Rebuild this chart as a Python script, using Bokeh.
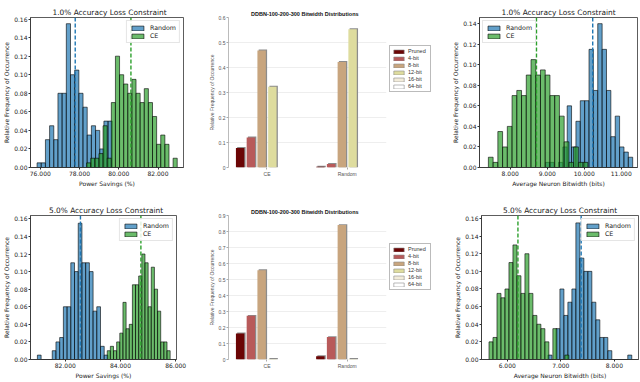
from bokeh.plotting import figure
from bokeh.layouts import column, row
from bokeh.models import Range1d, Span, FixedTicker, NumeralTickFormatter, Legend, LegendItem
from bokeh.embed import file_html
from bokeh.resources import INLINE

# ---------------- data ----------------
BLUE = "#1f77b4"
GREEN = "#2ca02c"
series_names = ["Random", "CE"]
y_label = "Relative Frequency of Occurrence"
hist_titles = ["1.0% Accuracy Loss Constraint", "5.0% Accuracy Loss Constraint"]
x_labels = ["Power Savings (%)", "Average Neuron Bitwidth (bits)"]

# power savings, 1.0 % constraint
ps1_rand_start, ps1_rand_bin = 75.835, 0.213
ps1_rand = [0.005, 0.005, 0.03, 0.045, 0.03, 0.08, 0.08, 0.155, 0.10, 0.105,
            0.08, 0.065, 0.035, 0.045, 0.04, 0.02, 0.05, 0.05]
ps1_ce_start, ps1_ce_bin = 78.36, 0.21
ps1_ce = [0.005, 0.01, 0.01, 0.015, 0.045, 0.01, 0.07, 0.12, 0.10, 0.09, 0.08,
          0.095, 0.08, 0.07, 0.085, 0.07, 0.055, 0.025, 0.035, 0.025, 0.0, 0.01]
ps1_means = [77.78, 80.62]
ps1_xticks = [76, 78, 80, 82]
ps1_xrange = [75.5, 83.3]
ps1_ytop = 0.1617

# bitwidth, 1.0 % constraint
bw1_rand_start, bw1_rand_bin = 8.95, 0.118
bw1_rand = [0.005, 0.005, 0.0, 0.005, 0.02, 0.06, 0.02, 0.045, 0.065, 0.065,
            0.115, 0.075, 0.14, 0.115, 0.075, 0.03, 0.05, 0.02, 0.015, 0.01]
bw1_ce_start, bw1_ce_bin = 7.41, 0.128
bw1_ce = [0.01, 0.005, 0.035, 0.02, 0.04, 0.07, 0.075, 0.07, 0.09, 0.105, 0.09,
          0.095, 0.09, 0.07, 0.07, 0.05, 0.025, 0.005, 0.02, 0.005, 0.005]
bw1_means = [10.23, 8.71]
bw1_xticks = [8, 9, 10, 11]
bw1_xrange = [7.17, 11.44]
bw1_ytop = 0.146

# power savings, 5.0 % constraint
ps5_rand_start, ps5_rand_bin = 80.99, 0.1345
ps5_rand = [0.005, 0.0, 0.0, 0.0, 0.01, 0.02, 0.025, 0.06, 0.06, 0.11, 0.10,
            0.155, 0.11, 0.11, 0.10, 0.055, 0.06, 0.015, 0.005]
ps5_ce_start, ps5_ce_bin = 83.52, 0.114
ps5_ce = [0.01, 0.015, 0.01, 0.02, 0.03, 0.065, 0.035, 0.04, 0.085, 0.085,
          0.095, 0.12, 0.11, 0.06, 0.105, 0.08, 0.055, 0.02, 0.02, 0.01]
ps5_means = [82.55, 84.74]
ps5_xticks = [82, 84, 86]
ps5_xrange = [80.74, 86.03]
ps5_ytop = 0.1638

# bitwidth, 5.0 % constraint
bw5_rand_start, bw5_rand_bin = 6.76, 0.0745
bw5_rand = [0.005, 0.0, 0.035, 0.08, 0.05, 0.065, 0.08, 0.155, 0.115, 0.10, 0.10,
            0.065, 0.045, 0.025, 0.025, 0.01, 0.0, 0.0, 0.0, 0.0, 0.005]
bw5_ce_start, bw5_ce_bin = 5.66, 0.0745
bw5_ce = [0.02, 0.025, 0.075, 0.07, 0.08, 0.11, 0.13, 0.095, 0.075, 0.12,
          0.075, 0.05, 0.04, 0.035, 0.02, 0.0, 0.035, 0.0, 0.0, 0.005]
bw5_means = [7.38, 6.20]
bw5_xticks = [6, 7, 8]
bw5_xrange = [5.52, 8.45]
bw5_ytop = 0.1634

hist_yticks_a = [0.00, 0.02, 0.04, 0.06, 0.08, 0.10, 0.12, 0.14, 0.16]
hist_yticks_b = [0.00, 0.02, 0.04, 0.06, 0.08, 0.10, 0.12, 0.14]

# bitwidth distributions (bar charts)
bar_title = "DDBN-100-200-300 Bitwidth Distributions"
groups = ["CE", "Random"]
bit_labels = ["Pruned", "4-bit", "8-bit", "12-bit", "16-bit", "64-bit"]
bit_colors = ["#6b0505", "#b85a5a", "#c8a57e", "#dedc9e", "#f2ecda", "#ffffff"]
dist1_ce = [0.078, 0.12, 0.468, 0.323, 0.0, 0.0]
dist1_rand = [0.003, 0.014, 0.422, 0.553, 0.0, 0.0]
dist5_ce = [0.163, 0.273, 0.558, 0.003, 0.0, 0.0]
dist5_rand = [0.02, 0.14, 0.84, 0.003, 0.0, 0.0]
dist1_yticks = [0, 0.1, 0.2, 0.3, 0.4, 0.5, 0.6]
dist1_ylabels = ["0", "0.1", "0.2", "0.3", "0.4", "0.5", "0.6"]
dist5_yticks = [0, 0.1, 0.2, 0.3, 0.4, 0.5, 0.6, 0.7, 0.8, 0.9]
dist5_ylabels = ["0", "0.1", "0.2", "0.3", "0.4", "0.5", "0.6", "0.7", "0.8", "0.9"]

# ---------------- helpers ----------------
HFONT = "DejaVu Sans"
BFONT = "Liberation Sans"
TITLE_W = 114   # approximate rendered width of the histogram titles (px)
BAR_TITLE_W = 118


def hist_fig(title, xlabel, xr, ytop, xticks, yticks, rand, ce, means, loc,
             width, height, bl, br, bt, bb):
    p = figure(width=width, height=height, output_backend="svg", toolbar_location=None,
               x_range=Range1d(*xr), y_range=Range1d(0, ytop),
               min_border_left=bl, min_border_right=br, min_border_top=bt, min_border_bottom=bb)
    p.grid.visible = False
    p.outline_line_color = "#333333"
    p.outline_line_width = 0.8
    items = []
    for (start, w, h), color, name in zip([rand, ce], [BLUE, GREEN], series_names):
        left = [start + i * w for i in range(len(h))]
        right = [l + w for l in left]
        r = p.quad(left=left, right=right, bottom=0, top=h, fill_color=color, fill_alpha=0.7,
                   line_color="black", line_alpha=0.75, line_width=0.8)
        items.append(LegendItem(label=name, renderers=[r]))
    for m, color in zip(means, [BLUE, GREEN]):
        p.add_layout(Span(location=m, dimension="height", line_color=color,
                          line_dash="4 2", line_width=1.4))
    leg = Legend(items=items, location=loc, label_text_font=HFONT, label_text_font_size="6.3px",
                 glyph_width=15, glyph_height=6, label_height=7, label_standoff=5,
                 spacing=1, padding=3, margin=3, border_line_color="#cccccc",
                 background_fill_alpha=0.85, label_text_color="#222222")
    p.add_layout(leg)
    frame_w = width - bl - br
    p.title.text = title
    p.title.align = "left"
    p.title.offset = (frame_w - TITLE_W) / 2
    p.title.text_font = HFONT
    p.title.text_font_size = "7.4px"
    p.title.text_font_style = "normal"
    p.title.text_color = "#222222"
    p.title.standoff = 1
    p.xaxis.ticker = FixedTicker(ticks=xticks)
    p.xaxis.formatter = NumeralTickFormatter(format="0.000")
    p.yaxis.ticker = FixedTicker(ticks=yticks)
    p.yaxis.formatter = NumeralTickFormatter(format="0.00")
    p.xaxis.axis_label = xlabel
    p.yaxis.axis_label = y_label
    for ax in (p.xaxis, p.yaxis):
        ax.axis_label_text_font = HFONT
        ax.axis_label_text_font_size = "6px"
        ax.axis_label_text_font_style = "normal"
        ax.axis_label_text_color = "#222222"
        ax.axis_label_standoff = 1
        ax.major_label_text_font = HFONT
        ax.major_label_text_font_size = "6px"
        ax.major_label_text_color = "#222222"
        ax.major_label_standoff = 1
        ax.major_tick_out = 2
        ax.major_tick_in = 0
        ax.minor_tick_line_color = None
        ax.axis_line_color = "#333333"
        ax.axis_line_width = 0.8
        ax.major_tick_line_color = "#333333"
    return p


def bar_fig(vals_ce, vals_rand, yticks, ylabels, ytop, width, height, bl, br, bt, bb):
    xr = (0.52, 2.49)
    p = figure(width=width, height=height, output_backend="svg", toolbar_location=None,
               x_range=Range1d(*xr), y_range=Range1d(0, ytop),
               min_border_left=bl, min_border_right=br, min_border_top=bt, min_border_bottom=bb)
    p.outline_line_color = None
    p.xgrid.visible = False
    p.ygrid.grid_line_color = "#eeeeee"
    p.ygrid.ticker = FixedTicker(ticks=yticks)
    frame_w = width - bl - br
    frame_h = height - bt - bb
    dx = (xr[1] - xr[0]) / frame_w * 1.3
    dy = ytop / frame_h * 1.0
    pitch, bw = 0.134, 0.105
    for k, col in enumerate(bit_colors):
        xs = [g + 1 + (k - 2.5) * pitch for g in range(len(groups))]
        tops = [vals_ce[k], vals_rand[k]]
        stops = [t + dy if t > 0 else 0 for t in tops]
        p.vbar(x=[x + dx for x in xs], top=stops, width=bw, fill_color="#8c8c8c",
               line_color=None)
        p.vbar(x=xs, top=tops, width=bw, fill_color=col, line_color=None)
    p.title.text = bar_title
    p.title.align = "left"
    p.title.offset = (frame_w - BAR_TITLE_W) / 2
    p.title.text_font = BFONT
    p.title.text_font_size = "5.5px"
    p.title.text_font_style = "bold"
    p.title.text_color = "#111111"
    p.title.standoff = 1
    p.xaxis.ticker = FixedTicker(ticks=[1, 2])
    p.xaxis.major_label_overrides = {1: groups[0], 2: groups[1]}
    p.yaxis.ticker = FixedTicker(ticks=yticks)
    p.yaxis.major_label_overrides = {t: s for t, s in zip(yticks, ylabels)}
    p.yaxis.axis_label = y_label
    for ax in (p.xaxis, p.yaxis):
        ax.axis_label_text_font = BFONT
        ax.axis_label_text_font_size = "5px"
        ax.axis_label_text_font_style = "normal"
        ax.axis_label_text_color = "#555555"
        ax.axis_label_standoff = 1
        ax.major_label_text_font = BFONT
        ax.major_label_text_font_size = "5px"
        ax.major_label_text_color = "#555555"
        ax.major_label_standoff = 1
        ax.major_tick_out = 2
        ax.major_tick_in = 0
        ax.minor_tick_line_color = None
        ax.major_tick_line_color = "#aaaaaa"
    p.yaxis.axis_line_color = "#bbbbbb"
    p.xaxis.axis_line_color = None
    return p


def legend_fig(width, height, bottom):
    q = figure(width=width, height=height, output_backend="svg", toolbar_location=None,
               x_range=Range1d(0, 1), y_range=Range1d(0, 1),
               min_border_left=0, min_border_right=0, min_border_top=0, min_border_bottom=0)
    q.axis.visible = False
    q.grid.visible = False
    q.outline_line_color = None
    items = []
    for lab, col in zip(bit_labels, bit_colors):
        # proxy glyph lying outside the visible range: only its legend swatch shows
        r = q.vbar(x=[5.0], top=[0.5], width=0.1, fill_color=col, line_color="#8c8c8c",
                   line_width=0.6)
        items.append(LegendItem(label=lab, renderers=[r]))
    leg = Legend(items=items, location=(0, bottom), label_text_font=BFONT,
                 label_text_font_size="5.5px", glyph_width=13, glyph_height=5,
                 label_height=5, label_standoff=3, spacing=1, padding=2, margin=0,
                 border_line_color="#777777", border_line_width=0.8,
                 label_text_color="#333333")
    q.add_layout(leg)
    return q


f1 = hist_fig(hist_titles[0], x_labels[0], ps1_xrange, ps1_ytop, ps1_xticks, hist_yticks_a,
              (ps1_rand_start, ps1_rand_bin, ps1_rand), (ps1_ce_start, ps1_ce_bin, ps1_ce),
              ps1_means, "top_right", 205, 190, 25, 22, 10, 23)
f2 = bar_fig(dist1_ce, dist1_rand, dist1_yticks, dist1_ylabels, 0.6, 184, 190, 18, 3, 17, 19)
l2 = legend_fig(51, 190, 75)
f3 = hist_fig(hist_titles[0], x_labels[1], bw1_xrange, bw1_ytop, bw1_xticks, hist_yticks_b,
              (bw1_rand_start, bw1_rand_bin, bw1_rand), (bw1_ce_start, bw1_ce_bin, bw1_ce),
              bw1_means, "top_left", 199, 190, 39, 2, 10, 23)
f4 = hist_fig(hist_titles[1], x_labels[0], ps5_xrange, ps5_ytop, ps5_xticks, hist_yticks_a,
              (ps5_rand_start, ps5_rand_bin, ps5_rand), (ps5_ce_start, ps5_ce_bin, ps5_ce),
              ps5_means, "top_right", 205, 191, 25, 29, 16, 17)
f5 = bar_fig(dist5_ce, dist5_rand, dist5_yticks, dist5_ylabels, 0.9, 184, 191, 18, 3, 25, 13)
l5 = legend_fig(51, 191, 69)
f6 = hist_fig(hist_titles[1], x_labels[1], bw5_xrange, bw5_ytop, bw5_xticks, hist_yticks_a,
              (bw5_rand_start, bw5_rand_bin, bw5_rand), (bw5_ce_start, bw5_ce_bin, bw5_ce),
              bw5_means, "top_right", 199, 191, 41, 1, 16, 17)

layout = column(row(f1, f2, l2, f3), row(f4, f5, l5, f6))
open("out.html", "w").write(file_html(layout, INLINE))
